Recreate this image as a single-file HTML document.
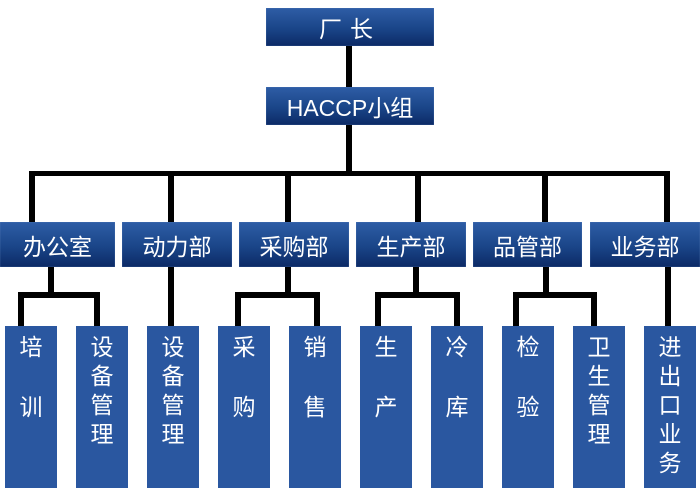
<!DOCTYPE html>
<html><head><meta charset="utf-8"><style>
body{margin:0;width:700px;height:500px;background:#fff;position:relative;overflow:hidden;font-family:"Liberation Sans","Noto Sans CJK SC",sans-serif}
.g{position:absolute;background:linear-gradient(#2e5da6,#1a4588 55%,#0c2a66);color:#fff;font-size:23px;display:flex;align-items:center;justify-content:center;box-shadow:0 0 1px #6d8cc0 inset}
.l{position:absolute;top:326px;height:162px;width:52px;background:#2a57a0;color:#fff;font-size:23px;text-align:center;line-height:29px;padding-top:7px;box-sizing:border-box}
.l span{display:block}
.l .s{margin-top:31px}
.k{position:absolute;background:#000}
</style></head><body>
<div class="k" style="left:346px;top:46px;width:6px;height:129px"></div>
<div class="k" style="left:29px;top:171px;width:641px;height:5px"></div>
<div class="k" style="left:29px;top:171px;width:6px;height:52px"></div>
<div class="k" style="left:168px;top:171px;width:6px;height:52px"></div>
<div class="k" style="left:285px;top:171px;width:6px;height:52px"></div>
<div class="k" style="left:415px;top:171px;width:6px;height:52px"></div>
<div class="k" style="left:542px;top:171px;width:6px;height:52px"></div>
<div class="k" style="left:664px;top:171px;width:6px;height:52px"></div>

<div class="k" style="left:48px;top:266px;width:6px;height:30px"></div>
<div class="k" style="left:18px;top:292px;width:82px;height:6px"></div>
<div class="k" style="left:18px;top:292px;width:6px;height:35px"></div>
<div class="k" style="left:94px;top:292px;width:6px;height:35px"></div>
<div class="k" style="left:168px;top:266px;width:6px;height:61px"></div>
<div class="k" style="left:285px;top:266px;width:6px;height:30px"></div>
<div class="k" style="left:235px;top:292px;width:85px;height:6px"></div>
<div class="k" style="left:235px;top:292px;width:6px;height:35px"></div>
<div class="k" style="left:314px;top:292px;width:6px;height:35px"></div>
<div class="k" style="left:413px;top:266px;width:6px;height:30px"></div>
<div class="k" style="left:375px;top:292px;width:85px;height:6px"></div>
<div class="k" style="left:375px;top:292px;width:6px;height:35px"></div>
<div class="k" style="left:454px;top:292px;width:6px;height:35px"></div>
<div class="k" style="left:543px;top:266px;width:6px;height:30px"></div>
<div class="k" style="left:513px;top:292px;width:84px;height:6px"></div>
<div class="k" style="left:513px;top:292px;width:6px;height:35px"></div>
<div class="k" style="left:591px;top:292px;width:6px;height:35px"></div>
<div class="k" style="left:665px;top:266px;width:6px;height:61px"></div>

<div class="g" style="left:266px;top:8px;width:168px;height:38px;letter-spacing:8px">厂长</div>
<div class="g" style="left:266px;top:87px;width:168px;height:38px">HACCP小组</div>
<div class="g" style="left:0;top:222px;width:115px;height:45px">办公室</div>
<div class="g" style="left:122px;top:222px;width:110px;height:45px">动力部</div>
<div class="g" style="left:239px;top:222px;width:110px;height:45px">采购部</div>
<div class="g" style="left:356px;top:222px;width:110px;height:45px">生产部</div>
<div class="g" style="left:473px;top:222px;width:109px;height:45px">品管部</div>
<div class="g" style="left:590px;top:222px;width:110px;height:45px">业务部</div>

<div class="l" style="left:5px"><span>培</span><span class="s">训</span></div>
<div class="l" style="left:76px">设<br>备<br>管<br>理</div>
<div class="l" style="left:147px">设<br>备<br>管<br>理</div>
<div class="l" style="left:218px"><span>采</span><span class="s">购</span></div>
<div class="l" style="left:289px"><span>销</span><span class="s">售</span></div>
<div class="l" style="left:360px"><span>生</span><span class="s">产</span></div>
<div class="l" style="left:431px"><span>冷</span><span class="s">库</span></div>
<div class="l" style="left:502px"><span>检</span><span class="s">验</span></div>
<div class="l" style="left:573px">卫<br>生<br>管<br>理</div>
<div class="l" style="left:644px">进<br>出<br>口<br>业<br>务</div>
</body></html>
